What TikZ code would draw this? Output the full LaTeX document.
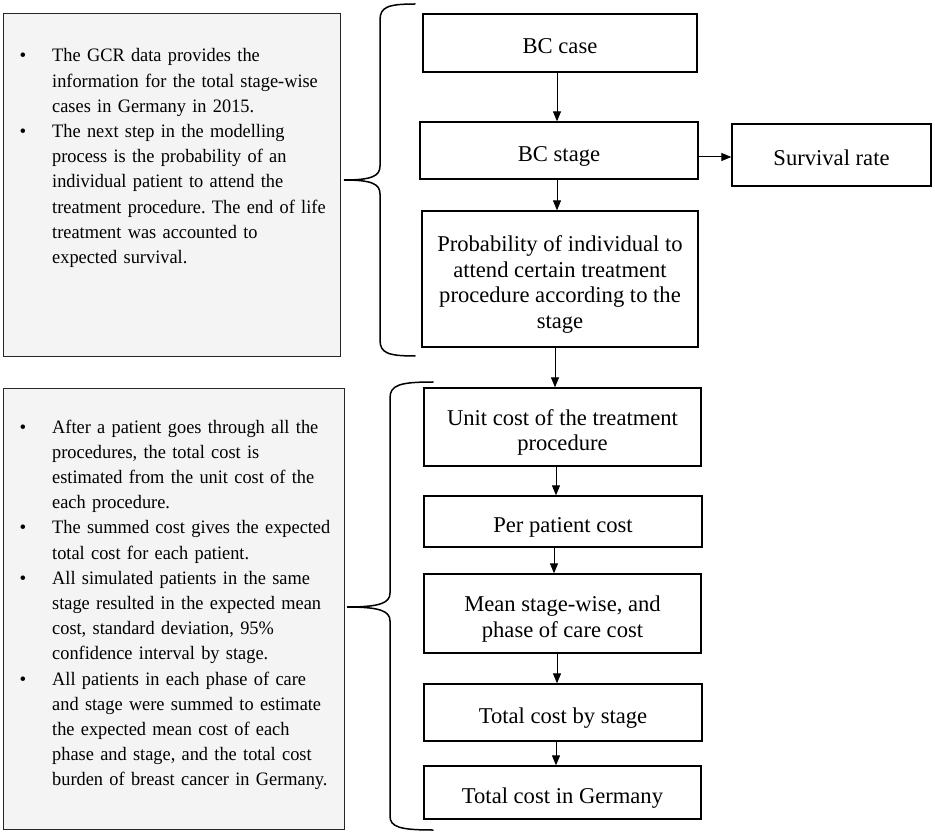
\documentclass[tikz,border=0pt]{standalone}
\usepackage{fontspec}
\setmainfont{Liberation Serif}
\newfontfamily\narrowserif{Liberation Serif}[FakeStretch=0.965]
\usetikzlibrary{arrows.meta}
\definecolor{panelgray}{RGB}{244,244,244}
\begin{document}
\frenchspacing
\begin{tikzpicture}[x=1pt,y=-1pt,
  flow/.style={draw=black,line width=1.3pt,inner sep=0pt,align=center,
    font=\fontsize{22.6}{25.6}\selectfont,text height=22pt,text depth=0pt},
  twoline/.style={text height=47.6pt,text depth=0pt},
  fourline/.style={text height=98.8pt,text depth=0pt},
  panel/.style={draw=black!85,line width=1.4pt,fill=panelgray,inner sep=0pt,anchor=north west},
  arr/.style={line width=1pt,-{Triangle[length=10pt,width=8pt]}},
  brace/.style={line width=1.5pt,line cap=round},
  bul/.style={anchor=base,inner sep=0pt,font=\fontsize{19}{25.2}\selectfont},
  itemtxt/.style={anchor=base west,inner sep=0pt,text width=295pt,align=left,
    font=\narrowserif\fontsize{19}{25.2}\selectfont}
]
\fill[white] (0,0) rectangle (935,834);
\useasboundingbox (0,0) rectangle (935,834);

% left panels
\node[panel,minimum width=337pt,minimum height=343pt] (ptop) at (3,13) {};
\node[panel,minimum width=341pt,minimum height=441pt] (pbot) at (3,388) {};

% upper text
\node[bul] (b1) at (23,62) {•};
\node[itemtxt] (t1) at (52,62) {The GCR data provides the\\information for the total stage-wise\\cases in Germany in 2015.};
\node[bul] (b2) at (23,137.6) {•};
\node[itemtxt] (t2) at (52,137.6) {The next step in the modelling\\process is the probability of an\\individual patient to attend the\\treatment procedure. The end of life\\treatment was accounted to\\expected survival.};

% lower text
\node[bul] (b3) at (23,433) {•};
\node[itemtxt] (u1) at (52,433) {After a patient goes through all the\\procedures, the total cost is\\estimated from the unit cost of the\\each procedure.};
\node[bul] (b4) at (23,533.8) {•};
\node[itemtxt] (u2) at (52,533.8) {The summed cost gives the expected\\total cost for each patient.};
\node[bul] (b5) at (23,584.2) {•};
\node[itemtxt] (u3) at (52,584.2) {All simulated patients in the same\\stage resulted in the expected mean\\cost, standard deviation, 95\%\\confidence interval by stage.};
\node[bul] (b6) at (23,685) {•};
\node[itemtxt] (u4) at (52,685) {All patients in each phase of care\\and stage were summed to estimate\\the expected mean cost of each\\phase and stage, and the total cost\\burden of breast cancer in Germany.};

% braces
\draw[brace] (415,4) .. controls (388,4) and (380,7) .. (380,20)
  -- (380,166) .. controls (380,176) and (372,180) .. (344,180)
  .. controls (372,180) and (380,184) .. (380,194)
  -- (380,340) .. controls (380,353) and (388,356) .. (415,356);
\draw[brace] (433,382) .. controls (400,382) and (390,385) .. (390,398)
  -- (390,593) .. controls (390,603) and (380,607) .. (347,607)
  .. controls (380,607) and (390,611) .. (390,621)
  -- (390,816) .. controls (390,827) and (400,830) .. (433,830);

% flow boxes
\node[flow,minimum width=274pt,minimum height=58pt] (case) at (560,43) {BC case};
\node[flow,minimum width=278pt,minimum height=57pt] (stage) at (559,150.5) {BC stage};
\node[flow,minimum width=199pt,minimum height=62pt] (surv) at (831.5,155) {Survival rate};
\node[flow,fourline,minimum width=276pt,minimum height=136pt] (prob) at (560,279)
  {Probability of individual to\\attend certain treatment\\procedure according to the\\stage};
\node[flow,twoline,minimum width=277pt,minimum height=78pt] (unit) at (562.5,427)
  {Unit cost of the treatment\\procedure};
\node[flow,minimum width=278pt,minimum height=51pt] (per) at (563,521.5) {Per patient cost};
\node[flow,twoline,minimum width=277pt,minimum height=79pt] (mean) at (562.5,613.5)
  {Mean stage-wise, and\\phase of care cost};
\node[flow,minimum width=278pt,minimum height=57pt] (tbs) at (563,712.5) {Total cost by stage};
\node[flow,minimum width=277pt,minimum height=53pt] (tig) at (562.5,792.5) {Total cost in Germany};

% connector guides
\coordinate (xa) at (557,0);
\coordinate (xb) at (555,0);
\coordinate (xc) at (556,0);
\coordinate (xd) at (554,0);
\coordinate (ya) at (0,157);

\draw[arr] (case.south -| xa) -- (stage.north -| xa);
\draw[arr] (stage.south -| xa) -- (prob.north -| xa);
\draw[arr] (stage.east |- ya) -- (surv.west |- ya);
\draw[arr] (prob.south -| xb) -- (unit.north -| xb);
\draw[arr] (unit.south -| xc) -- (per.north -| xc);
\draw[arr] (per.south -| xd) -- (mean.north -| xd);
\draw[arr] (mean.south -| xa) -- (tbs.north -| xa);
\draw[arr] (tbs.south -| xc) -- (tig.north -| xc);
\end{tikzpicture}
\end{document}
